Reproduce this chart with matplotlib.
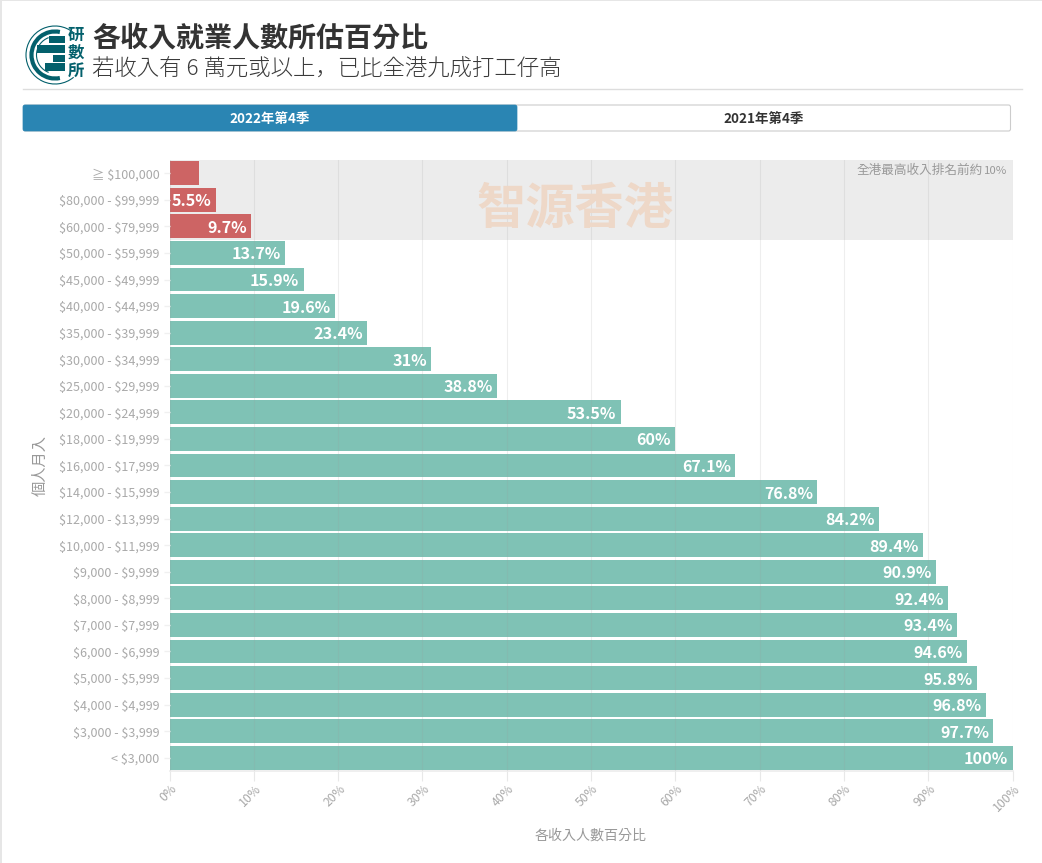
import matplotlib
matplotlib.use('Agg')
import matplotlib.pyplot as plt
from matplotlib.patches import Rectangle, FancyBboxPatch, Arc

plt.rcParams['font.family'] = ['Noto Sans CJK TC', 'DejaVu Sans']
plt.rcParams['text.parse_math'] = False  # labels are full of dollar signs

# ---- data ----
income_bands = ['≧ $100,000', '$80,000 - $99,999', '$60,000 - $79,999', '$50,000 - $59,999',
                '$45,000 - $49,999', '$40,000 - $44,999', '$35,000 - $39,999', '$30,000 - $34,999',
                '$25,000 - $29,999', '$20,000 - $24,999', '$18,000 - $19,999', '$16,000 - $17,999',
                '$14,000 - $15,999', '$12,000 - $13,999', '$10,000 - $11,999', '$9,000 - $9,999',
                '$8,000 - $8,999', '$7,000 - $7,999', '$6,000 - $6,999', '$5,000 - $5,999',
                '$4,000 - $4,999', '$3,000 - $3,999', '< $3,000']
percent = [3.5, 5.5, 9.7, 13.7, 15.9, 19.6, 23.4, 31, 38.8, 53.5, 60, 67.1, 76.8, 84.2,
           89.4, 90.9, 92.4, 93.4, 94.6, 95.8, 96.8, 97.7, 100]
# first bar has no label in the original, too narrow
labels = ['', '5.5%', '9.7%', '13.7%', '15.9%', '19.6%', '23.4%', '31%', '38.8%', '53.5%', '60%',
          '67.1%', '76.8%', '84.2%', '89.4%', '90.9%', '92.4%', '93.4%', '94.6%', '95.8%', '96.8%',
          '97.7%', '100%']
top_count = 3
x_ticks = [0, 10, 20, 30, 40, 50, 60, 70, 80, 90, 100]

W, H = 1042, 863
RED = '#cd6464'
GREEN = '#7fc2b5'
TEAL = '#03606c'
GREY = '#a9a9a9'

fig = plt.figure(figsize=(W / 100, H / 100), dpi=100, facecolor='white')

# ---- chart ----
ax = fig.add_axes([169.5 / W, 1 - 771 / H, 843 / W, 611 / H])
ys = list(range(len(percent)))
colors = [RED if i < top_count else GREEN for i in ys]
ax.axhspan(-0.5, top_count - 0.5, color='#ececec', lw=0, zorder=0)
ax.barh(ys, percent, height=0.9, color=colors, zorder=2)
ax.set_xlim(0, 100)
ax.set_ylim(len(percent) - 0.5, -0.5)
ax.set_xticks(x_ticks)
ax.set_xticklabels([])
ax.set_yticks(ys)
ax.set_yticklabels(income_bands, fontsize=9.0, color=GREY)
ax.tick_params(axis='y', length=4.5, width=1, color='#f0f0f0', pad=2.6)
ax.tick_params(axis='x', length=7, width=0.8, color='#e8e8e8')
ax.grid(axis='x', color='#9a9a9a', alpha=0.16, lw=0.8, zorder=3)
ax.set_axisbelow(False)
for s in ['top', 'right', 'left']:
    ax.spines[s].set_visible(False)
ax.spines['bottom'].set_color('#ececec')
ax.spines['bottom'].set_linewidth(1.2)

for y, v, lab in zip(ys, percent, labels):
    ax.annotate(lab, (v, y), xytext=(-3, 0), textcoords='offset points', ha='right', va='center_baseline',
                color='white', fontsize=11.6, fontweight='bold', zorder=4)

for t in x_ticks:
    ax.annotate(f'{t}%', (t, 0), xycoords=('data', 'axes fraction'), xytext=(0.5, -8),
                textcoords='offset points', rotation=45, rotation_mode='anchor', ha='right', va='top',
                fontsize=8.8, color=GREY, annotation_clip=False)

# ---- everything around the chart, in pixel coords ----
over = fig.add_axes([0, 0, 1, 1], facecolor='none')
over.set_xlim(0, W)
over.set_ylim(H, 0)
over.axis('off')

over.add_patch(Rectangle((0, 0), 1.5, H, color='#e6e6e6', lw=0))
over.add_patch(Rectangle((0, 0), W, 1, color='#e6e6e6', lw=0))

over.text(92, 39, '各收入就業人數所估百分比', fontsize=20.2, fontweight='bold', color='#333333', va='center')
over.text(92, 68.5, '若收入有 6 萬元或以上，已比全港九成打工仔高', fontsize=16.1, color='#3a3a3a', va='center',
          family='Noto Sans CJK JP', fontweight='light')
over.plot([23, 1022], [89.5, 89.5], color='#dddddd', lw=1)

# toggle buttons
over.add_patch(FancyBboxPatch((23.5, 105), 987, 26, boxstyle='round,pad=0,rounding_size=2',
                              fc='white', ec='#cccccc', lw=0.8))
over.add_patch(FancyBboxPatch((23, 105), 494, 26, boxstyle='round,pad=0,rounding_size=2',
                              fc='#2a85b3', ec='#2a85b3', lw=0.5))
over.text(270, 119, '2022年第4季', fontsize=9.7, fontweight='bold', color='white', ha='center', va='center')
over.text(764, 119, '2021年第4季', fontsize=9.7, fontweight='bold', color='#333333', ha='center', va='center')

# watermark and notes
over.text(575, 209, '智源香港', fontsize=35.5, fontweight='bold', color='#eed8c8', ha='center', va='center')
over.text(983, 170, '全港最高收入排名前約', fontsize=9.1, color='#999999', ha='right', va='center')
over.text(1007, 170.5, '10%', fontsize=8.2, color='#999999', ha='right', va='center')
over.text(591, 836, '各收入人數百分比', fontsize=10.1, color='#999999', ha='center', va='center')
over.text(40, 465, '個人月入', fontsize=11, color='#999999', ha='center', va='center', rotation=90)

# logo
cx, cy = 55, 55
for d, lw, a1, a2 in [(58, 0.8, 50, 310), (47, 3.0, 78, 282), (37, 0.8, 110, 250)]:
    over.add_patch(Arc((cx, cy), d, d, theta1=a1, theta2=a2, color=TEAL, lw=lw))
for x0, x1, y0, y1 in [(49, 65, 36, 43), (37, 65, 45, 53), (53, 65, 55, 62), (45, 65, 63, 71)]:
    over.add_patch(Rectangle((x0, y0), x1 - x0, y1 - y0, color=TEAL, lw=0))
for y, ch in zip([35, 52.5, 71], '研數所'):
    over.text(76, y, ch, fontsize=11.8, fontweight='bold', color=TEAL, ha='center', va='center')

fig.savefig('out.png', dpi=100)
